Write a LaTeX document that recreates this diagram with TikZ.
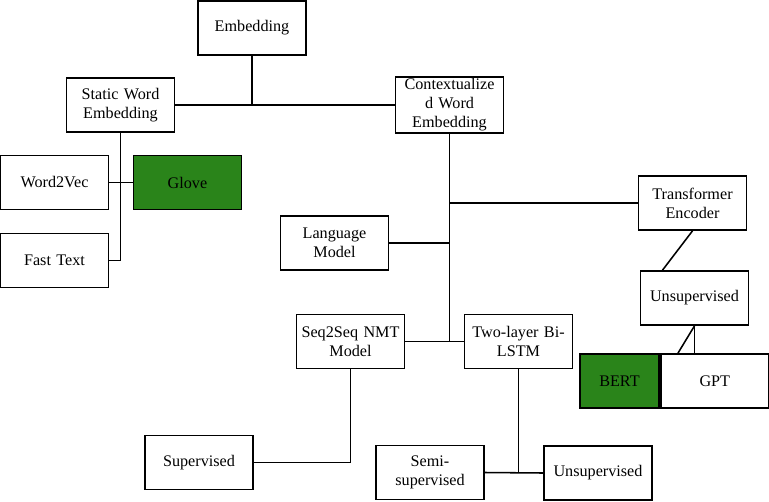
\documentclass[tikz,border=0pt]{standalone}
\usepackage{fontspec}
\setmainfont{Liberation Serif}
\usetikzlibrary{positioning, calc}
\definecolor{leafgreen}{HTML}{2A841A}

\begin{document}
\begin{tikzpicture}[
    x=0.025cm, y=-0.025cm,
    box/.style={draw, line width=1.2pt, minimum width=2.7cm,
                minimum height=1.35cm, text width=2.5cm, align=center,
                inner sep=1pt, font=\fontsize{11.5}{13.5}\selectfont},
    pick/.style={box, fill=leafgreen},
    link/.style={line width=1.1pt}
  ]
  \useasboundingbox (0,0) rectangle (769,501);

  \node[box] (emb) at (252,28) {Embedding};
  \node[box] (static) at (120.5,105) {Static Word\\Embedding};
  \node[box] (ctx) at (449.5,105) {Contextualize\\d Word\\Embedding};

  \node[box] (w2v) at (54.5,182.5) {Word2Vec};
  \node[pick, right=0.58cm of w2v] (glove) {Glove};
  \node[box] (fast) at (54.5,260.5) {Fast Text};

  \node[box] (lang) at (334.5,243) {Language\\Model};
  \node[box] (trans) at (692.5,203) {Transformer\\Encoder};
  \node[box] (unsup) at (694.5,298) {Unsupervised};
  \node[pick, minimum width=1.98cm, text width=1.8cm] (bert) at (619.5,381) {BERT};
  \node[box, right=0pt of bert] (gpt) {GPT};

  \node[box] (seq) at (350.5,341.5) {Seq2Seq NMT\\Model};
  \node[box] (bilstm) at (518.5,341.5) {Two-layer Bi-\\LSTM};
  \node[box] (sup) at (199,462.5) {Supervised};
  \node[box] (semi) at (430,472.5) {Semi-\\supervised};
  \node[box] (unsupb) at (598,473) {Unsupervised};

  % static vs contextualized
  \draw[link] (emb.south) -- (emb.south |- static.east);
  \draw[link] (static.east) -- (ctx.west);
  \draw[link] (static.south) |- (fast.east);
  \draw[link] (w2v.east) -- (glove.west);

  % contextualized branch
  \draw[link] (ctx.south) -- (ctx.south |- seq.east);
  \draw[link] (lang.east) -- (lang.east -| ctx.south);
  \draw[link] (trans.west) -- (trans.west -| ctx.south);
  \draw[link] (seq.east) -- (bilstm.west);
  \draw[link] (trans.south) -- ($(unsup.north)+(-32,0)$);
  \draw[link] (unsup.south) -- (unsup.south |- gpt.north);
  \draw[link] (unsup.south) -- ($(gpt.north west)+(18,0)$);
  \draw[link] (seq.south) |- (sup.east);
  \draw[link] (bilstm.south) -- (bilstm.south |- semi.east);
  \draw[link] (semi.east) -- (unsupb.west);
\end{tikzpicture}
\end{document}
